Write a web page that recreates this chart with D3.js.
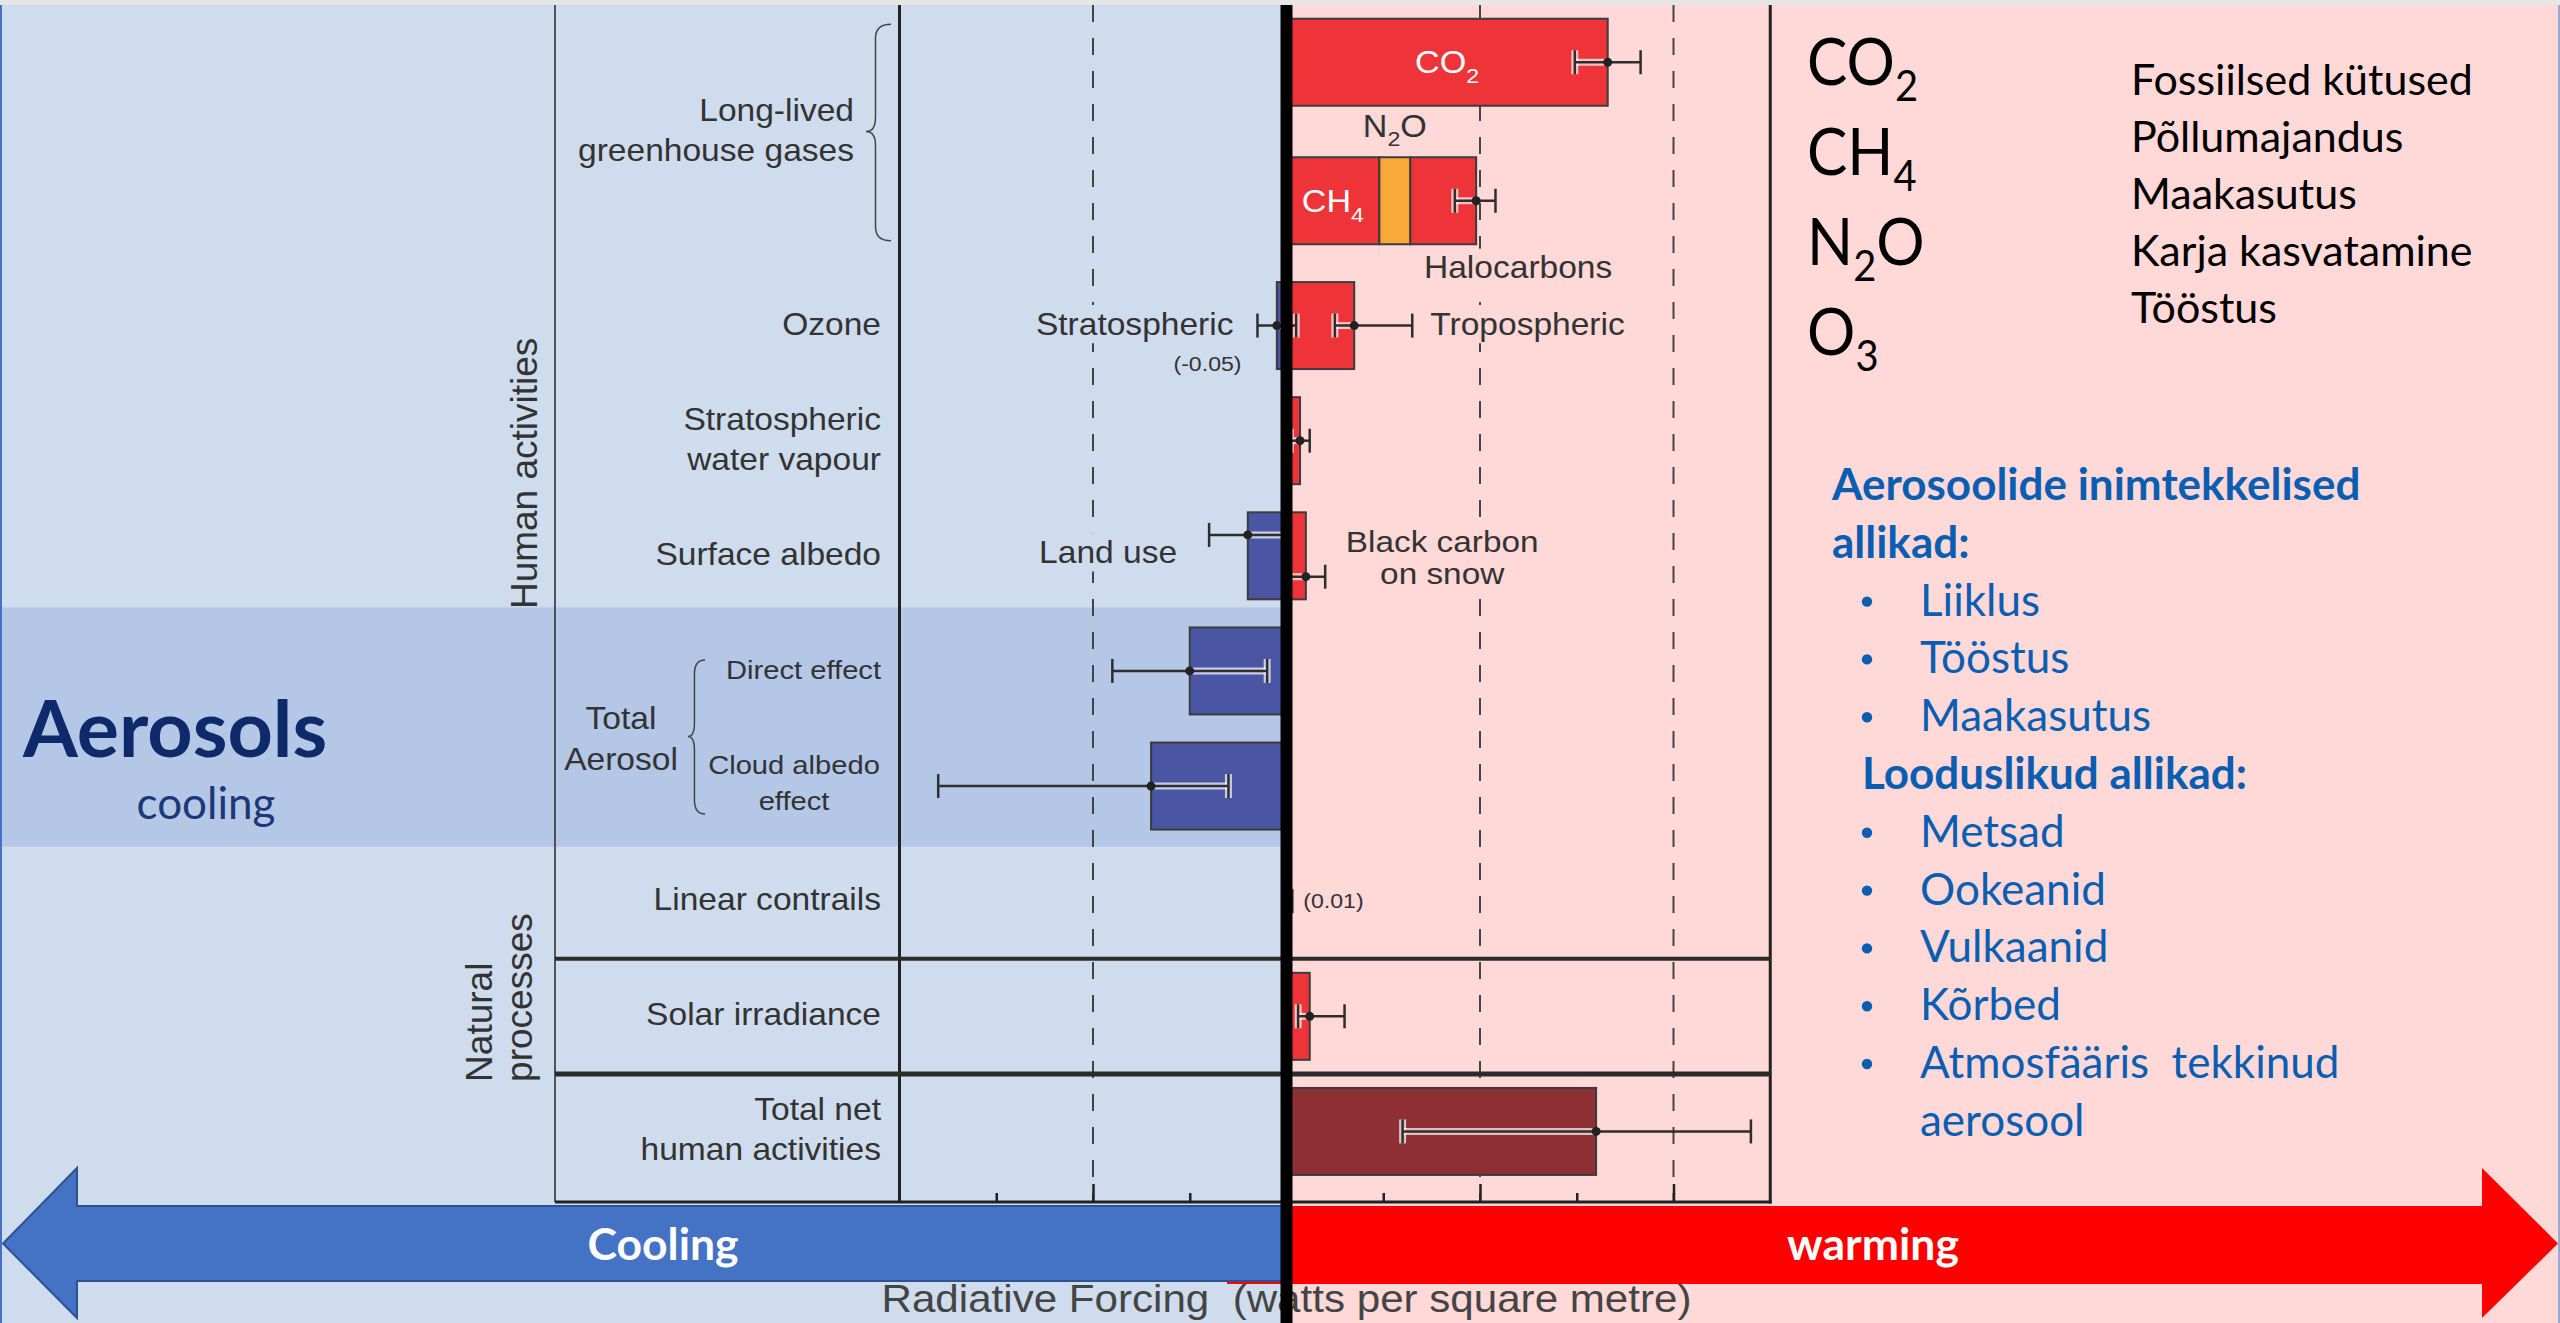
<!DOCTYPE html>
<html>
<head>
<meta charset="utf-8">
<script src="https://cdn.jsdelivr.net/npm/d3@7"></script>
<style>
  html, body { margin: 0; padding: 0; background: #ffffff; }
  svg { display: block; }
</style>
</head>
<body>
<svg id="chart" width="2560" height="1323"></svg>
<script>
// ---------------- data ----------------
// Rows of the radiative forcing chart
const ghgRows = ["CO2", "CH4"];
const otherRows = ["Ozone", "Stratospheric water vapour", "Surface albedo", "Direct effect",
  "Cloud albedo effect", "Linear contrails", "Solar irradiance", "Total net human activities"];

// Forcing terms (W/m²), the row each belongs to, and the uncertainty range
const terms = ["CO2", "CH4", "N2O", "Halocarbons", "Stratospheric ozone", "Tropospheric ozone",
  "Stratospheric water vapour", "Land use", "Black carbon on snow", "Direct effect",
  "Cloud albedo effect", "Linear contrails", "Solar irradiance", "Total net human activities"];
const termRow = ["CO2", "CH4", "CH4", "CH4", "Ozone", "Ozone", "Stratospheric water vapour",
  "Surface albedo", "Surface albedo", "Direct effect", "Cloud albedo effect", "Linear contrails",
  "Solar irradiance", "Total net human activities"];
const forcing   = [1.66, 0.48, 0.16, 0.34, -0.05, 0.35, 0.07, -0.20, 0.10, -0.50, -0.70, 0.01, 0.12, 1.60];
const rangeLow  = [1.49, null, null, 0.87, -0.15, 0.25, 0.02, -0.40, 0.00, -0.90, -1.80, 0.003, 0.06, 0.60];
const rangeHigh = [1.83, null, null, 1.08,  0.05, 0.65, 0.12,  0.00, 0.20, -0.10, -0.30, 0.03, 0.30, 2.40];
const termKind  = ["warm", "warm", "n2o", "warm", "cool", "warm", "warm", "cool", "warm", "cool", "cool", "warm", "warm", "net"];

// Axis
const xDomain = [-2, 2.5];
const majorTicks = [-1, 0, 1, 2];
const minorTicks = [-1.5, -0.5, 0.5, 1.5];
const gridValues = [-1, 1, 2];

// Row label texts
const groupLabel = ["Long-lived", "greenhouse gases"];
const rowLabels = {
  "Ozone": ["Ozone"],
  "Stratospheric water vapour": ["Stratospheric", "water vapour"],
  "Surface albedo": ["Surface albedo"],
  "Direct effect": ["Direct effect"],
  "Cloud albedo effect": ["Cloud albedo", "effect"],
  "Linear contrails": ["Linear contrails"],
  "Solar irradiance": ["Solar irradiance"],
  "Total net human activities": ["Total net", "human activities"]
};
const aerosolGroupLabel = ["Total", "Aerosol"];

// Side notes
const formulas = [["CO", "2", ""], ["CH", "4", ""], ["N", "2", "O"], ["O", "3", ""]];
const gasSources = ["Fossiilsed kütused", "Põllumajandus", "Maakasutus", "Karja kasvatamine", "Tööstus"];
const aerosolHeading = ["Aerosoolide inimtekkelised", "allikad:"];
const aerosolHumanSources = [["Liiklus"], ["Tööstus"], ["Maakasutus"]];
const naturalHeading = "Looduslikud allikad:";
const aerosolNaturalSources = [["Metsad"], ["Ookeanid"], ["Vulkaanid"], ["Kõrbed"], ["Atmosfääris  tekkinud", "aerosool"]];

// ---------------- layout ----------------
const W = 2560, H = 1323;
const topStrip = 5;
const plotLeft = 555, axisY = 1202;
const barH = 87;
const chartFont = "'Liberation Sans', Arial, Helvetica, sans-serif";
const noteFont = "Lato, 'Open Sans', sans-serif";
const ink = "#333333";
const sx = 1.1; // horizontal stretch of the chart lettering

const colors = {
  panelBlue: "#cfdcee", band: "#b4c7e7", panelPink: "#ffd8d8",
  warm: "#ee3438", cool: "#4a55a4", n2o: "#f9a83a", net: "#8e2f33",
  arrowBlue: "#4472c4", arrowBlueEdge: "#2f528f", arrowRed: "#ff0000",
  noteBlue: "#0a5eb2", navy: "#0f2a6a"
};

const x = d3.scaleLinear().domain(xDomain).range([899.5, 1770.25]);
const x0 = x(0);
const yGhg = d3.scaleBand().domain(ghgRows).range([-7, 270]);
const yRest = d3.scaleBand().domain(otherRows).range([268, 1189]);
const rowCenter = r => ghgRows.includes(r)
  ? yGhg(r) + yGhg.bandwidth() / 2
  : yRest(r) + yRest.bandwidth() / 2;

const svg = d3.select("#chart");

// ---------------- helpers ----------------
function stretchedText(parent, px, py, lines, o) {
  const g = parent.append("g")
    .attr("transform", `translate(${px},${py}) scale(${o.sx || 1},1)`);
  const t = g.append("text")
    .attr("text-anchor", o.anchor || "start")
    .attr("font-family", o.font || chartFont)
    .attr("font-size", o.size || 30.5)
    .attr("font-weight", o.weight || "normal")
    .attr("fill", o.fill || ink)
    .style("white-space", "pre");
  lines.forEach((ln, i) => {
    t.append("tspan").attr("x", 0).attr("y", i * (o.lineGap || 40)).text(ln);
  });
  if (o.mask) {
    const b = t.node().getBBox();
    g.insert("rect", "text")
      .attr("x", b.x - 4).attr("y", b.y - 2)
      .attr("width", b.width + 8).attr("height", b.height + 4)
      .attr("fill", o.mask);
  }
  return g;
}

function chemText(parent, px, py, parts, o) {
  const g = parent.append("g")
    .attr("transform", `translate(${px},${py}) scale(${o.sx || 1},1)`);
  const t = g.append("text")
    .attr("text-anchor", o.anchor || "start")
    .attr("font-family", o.font || chartFont)
    .attr("font-size", o.size)
    .attr("fill", o.fill || ink);
  const sub = o.subDrop || o.size * 0.3;
  t.append("tspan").text(parts[0]);
  t.append("tspan").attr("font-size", o.size * (o.subScale || 0.68)).attr("dy", sub).text(parts[1]);
  if (parts[2]) t.append("tspan").attr("dy", -sub).text(parts[2]);
  return g;
}

// ---------------- backgrounds ----------------
svg.append("rect").attr("x", 0).attr("y", 0).attr("width", W).attr("height", topStrip).attr("fill", "#e6e6e6");
svg.append("rect").attr("x", 0).attr("y", topStrip).attr("width", x0).attr("height", H - topStrip).attr("fill", colors.panelBlue);
svg.append("rect").attr("x", x0).attr("y", topStrip).attr("width", W - x0).attr("height", H - topStrip).attr("fill", colors.panelPink);
// aerosol highlight band across the cooling side
const bandTop = yRest("Direct effect") - 6;
const bandBottom = yRest("Cloud albedo effect") + yRest.step() + 3;
svg.append("rect").attr("x", 0).attr("y", bandTop).attr("width", x0).attr("height", bandBottom - bandTop).attr("fill", colors.band);
// slide frame
svg.append("line").attr("x1", 1).attr("x2", 1).attr("y1", topStrip).attr("y2", H).attr("stroke", colors.arrowBlue).attr("stroke-width", 2);
svg.append("line").attr("x1", W - 1).attr("x2", W - 1).attr("y1", topStrip).attr("y2", H).attr("stroke", "#9aa9cf").attr("stroke-width", 2);

// ---------------- chart frame ----------------
const frame = svg.append("g");
// dashed reference lines
frame.selectAll("line.grid").data(gridValues).join("line")
  .attr("class", "grid")
  .attr("x1", d => x(d)).attr("x2", d => x(d))
  .attr("y1", topStrip).attr("y2", axisY)
  .attr("stroke", "#444").attr("stroke-width", 2).attr("stroke-dasharray", "17,16");

frame.append("line").attr("x1", plotLeft).attr("x2", plotLeft).attr("y1", topStrip).attr("y2", axisY)
  .attr("stroke", ink).attr("stroke-width", 1.6);
frame.append("line").attr("x1", x(xDomain[0])).attr("x2", x(xDomain[0])).attr("y1", topStrip).attr("y2", axisY)
  .attr("stroke", "#222").attr("stroke-width", 3);
frame.append("line").attr("x1", x(xDomain[1])).attr("x2", x(xDomain[1])).attr("y1", topStrip).attr("y2", axisY + 1.5)
  .attr("stroke", "#222").attr("stroke-width", 3);
frame.append("line").attr("x1", plotLeft).attr("x2", x(xDomain[1]) + 1.5).attr("y1", axisY).attr("y2", axisY)
  .attr("stroke", "#222").attr("stroke-width", 3);
// separators: natural processes, total net
const sepA = yRest("Solar irradiance");
const sepB = yRest("Total net human activities");
frame.append("line").attr("x1", plotLeft).attr("x2", x(xDomain[1])).attr("y1", sepA).attr("y2", sepA)
  .attr("stroke", "#2b2b2b").attr("stroke-width", 4);
frame.append("line").attr("x1", plotLeft).attr("x2", x(xDomain[1])).attr("y1", sepB).attr("y2", sepB)
  .attr("stroke", "#2b2b2b").attr("stroke-width", 5);

// ticks pointing up from the bottom line
function tickAxis(values, size) {
  const g = svg.append("g").attr("transform", `translate(0,${axisY})`)
    .call(d3.axisTop(x).tickValues(values).tickSize(size).tickSizeOuter(0).tickFormat(""));
  g.select(".domain").remove();
  g.selectAll(".tick line").attr("stroke", "#222").attr("stroke-width", 2.5);
}
tickAxis(majorTicks, 18);
tickAxis(minorTicks, 9);

// ---------------- bars ----------------
const posAcc = {}, negAcc = {};
const bars = terms.map((t, i) => {
  const r = termRow[i], v = forcing[i];
  let a, b;
  if (v >= 0) { a = posAcc[r] || 0; b = a + v; posAcc[r] = b; }
  else { a = negAcc[r] || 0; b = a + v; negAcc[r] = b; }
  return { term: t, row: r, value: v, start: a, end: b, lo: rangeLow[i], hi: rangeHigh[i], kind: termKind[i] };
});

const gBars = svg.append("g");
gBars.selectAll("rect").data(bars).join("rect")
  .attr("x", d => x(Math.min(d.start, d.end)))
  .attr("width", d => Math.abs(x(d.end) - x(d.start)))
  .attr("y", d => rowCenter(d.row) - barH / 2)
  .attr("height", barH)
  .attr("fill", d => colors[d.kind])
  .attr("stroke", "#3c3c3c").attr("stroke-width", 2);

// error bars, drawn at the end of each (stacked) bar
const splitRows = ["Surface albedo"];
const errY = d => rowCenter(d.row) + (splitRows.includes(d.row) ? (d.value < 0 ? -0.24 : 0.24) * barH : 0);
const errs = bars.filter(d => d.lo !== null);
const capH = 24;
const gErr = svg.append("g");
errs.forEach(d => {
  const y = errY(d);
  // light halo on the part of the whisker that lies inside the bar
  const inA = d.value >= 0 ? Math.max(d.lo, 0) : d.end;
  const inB = d.value >= 0 ? d.end : Math.min(d.hi, 0);
  const capIn = d.value >= 0 ? d.lo : d.hi;
  if (inB > inA) {
    gErr.append("line").attr("x1", x(inA)).attr("x2", x(inB)).attr("y1", y).attr("y2", y)
      .attr("stroke", "#ffffff").attr("stroke-opacity", 0.7).attr("stroke-width", 7);
    gErr.append("line").attr("x1", x(capIn)).attr("x2", x(capIn)).attr("y1", y - capH / 2).attr("y2", y + capH / 2)
      .attr("stroke", "#ffffff").attr("stroke-opacity", 0.7).attr("stroke-width", 7);
  }
  gErr.append("line").attr("x1", x(d.lo)).attr("x2", x(d.hi)).attr("y1", y).attr("y2", y)
    .attr("stroke", "#2e2e2e").attr("stroke-width", 2.5);
  [d.lo, d.hi].forEach(v => {
    gErr.append("line").attr("x1", x(v)).attr("x2", x(v)).attr("y1", y - capH / 2).attr("y2", y + capH / 2)
      .attr("stroke", "#2e2e2e").attr("stroke-width", 2.5);
  });
  gErr.append("circle").attr("cx", x(d.end)).attr("cy", y).attr("r", 4.5).attr("fill", "#222");
});

// ---------------- labels on the chart ----------------
const byTerm = Object.fromEntries(bars.map(d => [d.term, d]));
const gLab = svg.append("g");

// in-bar gas labels
chemText(gLab, x((byTerm.CO2.start + byTerm.CO2.end) / 2), rowCenter("CO2") + 11, ["CO", "2", ""],
  { size: 31, sx, anchor: "middle", fill: "#ffffff", subDrop: 10 });
chemText(gLab, x((byTerm.CH4.start + byTerm.CH4.end) / 2), rowCenter("CH4") + 11, ["CH", "4", ""],
  { size: 31, sx, anchor: "middle", fill: "#ffffff", subDrop: 10 });
chemText(gLab, x((byTerm.N2O.start + byTerm.N2O.end) / 2), rowCenter("CH4") - barH / 2 - 20, ["N", "2", "O"],
  { size: 31, sx, anchor: "middle", subDrop: 9 });

const pinkMask = colors.panelPink, blueMask = colors.panelBlue;
stretchedText(gLab, x(byTerm.Halocarbons.end) + 42, rowCenter("CH4") + barH / 2 + 34, ["Halocarbons"],
  { sx, anchor: "middle", mask: pinkMask });
stretchedText(gLab, x(byTerm["Stratospheric ozone"].lo) - 24, rowCenter("Ozone") + 9, ["Stratospheric"],
  { sx, anchor: "end", mask: blueMask });
stretchedText(gLab, x0 - 45, rowCenter("Ozone") + 45, ["(-0.05)"], { sx, anchor: "end", size: 21 });
stretchedText(gLab, x(byTerm["Tropospheric ozone"].hi) + 18, rowCenter("Ozone") + 9, ["Tropospheric"],
  { sx, anchor: "start", mask: pinkMask });
stretchedText(gLab, x(byTerm["Land use"].lo) - 32, rowCenter("Surface albedo") + 7, ["Land use"],
  { sx, anchor: "end", mask: blueMask });
stretchedText(gLab, x(byTerm["Black carbon on snow"].hi) + 117, rowCenter("Surface albedo") - 4,
  ["Black carbon", "on snow"], { sx: 1.15, size: 29, anchor: "middle", lineGap: 32.5, mask: pinkMask });
stretchedText(gLab, x(byTerm["Linear contrails"].hi) + 11, rowCenter("Linear contrails") + 7, ["(0.01)"],
  { sx, anchor: "start", size: 21 });

// row names
const labelRight = 881;
otherRows.forEach(r => {
  const lines = rowLabels[r];
  const c = rowCenter(r);
  if (r === "Cloud albedo effect") {
    stretchedText(gLab, 794, c - 12, lines, { sx, anchor: "middle", lineGap: 36, size: 26.5 });
  } else if (r === "Direct effect") {
    stretchedText(gLab, labelRight, c + 8, lines, { sx, anchor: "end", size: 26.5 });
  } else if (lines.length === 1) {
    stretchedText(gLab, labelRight, c + 9, lines, { sx, anchor: "end" });
  } else {
    stretchedText(gLab, labelRight, c - 11, lines, { sx, anchor: "end", lineGap: 40 });
  }
});
const ghgMid = (rowCenter("CO2") + rowCenter("CH4")) / 2;
stretchedText(gLab, 854, ghgMid - 11, groupLabel, { sx, anchor: "end", lineGap: 41 });

const aeroMid = (rowCenter("Direct effect") + rowCenter("Cloud albedo effect")) / 2 + 8;
stretchedText(gLab, 621, aeroMid - 8, aerosolGroupLabel, { sx, anchor: "middle", lineGap: 42 });

// braces
function brace(xTip, xEnd, yTop, yBot, yMid) {
  const xm = xEnd - (xEnd - xTip) * 0.62;
  const r = 14;
  const p = d3.path();
  p.moveTo(xEnd, yTop);
  p.quadraticCurveTo(xm, yTop, xm, yTop + r);
  p.lineTo(xm, yMid - r);
  p.quadraticCurveTo(xm, yMid, xTip, yMid);
  p.quadraticCurveTo(xm, yMid, xm, yMid + r);
  p.lineTo(xm, yBot - r);
  p.quadraticCurveTo(xm, yBot, xEnd, yBot);
  gLab.append("path").attr("d", p.toString()).attr("fill", "none").attr("stroke", "#444").attr("stroke-width", 1.5);
}
brace(866, 891, rowCenter("CO2") - 38, rowCenter("CH4") + 40, ghgMid);
brace(688, 705, rowCenter("Direct effect") - 11, rowCenter("Cloud albedo effect") + 28, aeroMid);

// vertical group titles
gLab.append("text").attr("transform", `translate(537,${(yRest("Ozone") + sepA) / 2 - 140}) rotate(-90)`)
  .attr("text-anchor", "middle").attr("font-family", chartFont).attr("font-size", 37).attr("fill", ink)
  .text("Human activities");
[["Natural", 492], ["processes", 532]].forEach(([t, bx]) => {
  gLab.append("text").attr("transform", `translate(${bx},${sepB + 8}) rotate(-90)`)
    .attr("text-anchor", "start").attr("font-family", chartFont).attr("font-size", 37).attr("fill", ink)
    .text(t);
});

// ---------------- cooling / warming arrows ----------------
const shaftTop = 1206, shaftBot = 1281, headTop = 1168, headBot = 1318;
const midY = (shaftTop + shaftBot) / 2;
const redPts = [[1227, shaftTop], [2482, shaftTop], [2482, headTop], [2558, midY], [2482, headBot], [2482, shaftBot + 3], [1227, shaftBot + 3]];
svg.append("path").attr("d", d3.line()(redPts) + "Z").attr("fill", colors.arrowRed);
const bluePts = [[x0, shaftTop], [77, shaftTop], [77, headTop], [3, midY], [77, headBot], [77, shaftBot], [x0, shaftBot]];
svg.append("path").attr("d", d3.line()(bluePts) + "Z").attr("fill", colors.arrowBlue)
  .attr("stroke", colors.arrowBlueEdge).attr("stroke-width", 2);

svg.append("text").attr("x", 663).attr("y", 1260).attr("text-anchor", "middle")
  .attr("font-family", noteFont).attr("font-weight", 700).attr("font-size", 44.5).attr("fill", "#ffffff").text("Cooling");
svg.append("text").attr("x", 1873).attr("y", 1260).attr("text-anchor", "middle")
  .attr("font-family", noteFont).attr("font-weight", 700).attr("font-size", 44.5).attr("fill", "#ffffff").text("warming");

// axis title
stretchedText(svg, x0, 1312, ["Radiative Forcing  (watts per square metre)"], { sx, anchor: "middle", size: 38.3, fill: "#444" });

// ---------------- aerosol callout on the left ----------------
svg.append("text").attr("x", 23).attr("y", 757).attr("font-family", noteFont).attr("font-weight", 700)
  .attr("font-size", 79).attr("fill", colors.navy).text("Aerosols");
svg.append("text").attr("x", 206).attr("y", 819).attr("text-anchor", "middle").attr("font-family", noteFont)
  .attr("font-size", 44).attr("fill", "#1c3878").text("cooling");

// ---------------- notes on the right ----------------
formulas.forEach((f, i) => {
  chemText(svg, 1807, 85 + i * 90, f, { size: 65, sx: 0.93, font: noteFont, fill: "#000", subScale: 0.66, subDrop: 16 });
});
gasSources.forEach((s, i) => {
  svg.append("text").attr("x", 2131).attr("y", 95 + i * 57).attr("font-family", noteFont)
    .attr("font-size", 43).attr("fill", "#000").text(s);
});

const noteStep = 57.8;
let k = 0;
const noteY = () => 500 + (k++) * noteStep;
aerosolHeading.forEach(s => {
  svg.append("text").attr("x", 1832).attr("y", noteY()).attr("font-family", noteFont).attr("font-weight", 700)
    .attr("font-size", 44).attr("fill", colors.noteBlue).text(s);
});
function bulletItems(items) {
  items.forEach(lines => {
    lines.forEach((s, j) => {
      const y = noteY();
      if (j === 0) {
        svg.append("circle").attr("cx", 1867).attr("cy", y - 14).attr("r", 5.2).attr("fill", colors.noteBlue);
      }
      svg.append("text").attr("x", 1920).attr("y", y).attr("font-family", noteFont)
        .attr("font-size", 44).attr("fill", colors.noteBlue).style("white-space", "pre").text(s);
    });
  });
}
bulletItems(aerosolHumanSources);
svg.append("text").attr("x", 1862).attr("y", noteY()).attr("font-family", noteFont).attr("font-weight", 700)
  .attr("font-size", 44).attr("fill", colors.noteBlue).text(naturalHeading);
bulletItems(aerosolNaturalSources);

// ---------------- zero line ----------------
svg.append("rect").attr("x", x0 - 6).attr("y", topStrip).attr("width", 12).attr("height", H - topStrip).attr("fill", "#000");
</script>
</body>
</html>
